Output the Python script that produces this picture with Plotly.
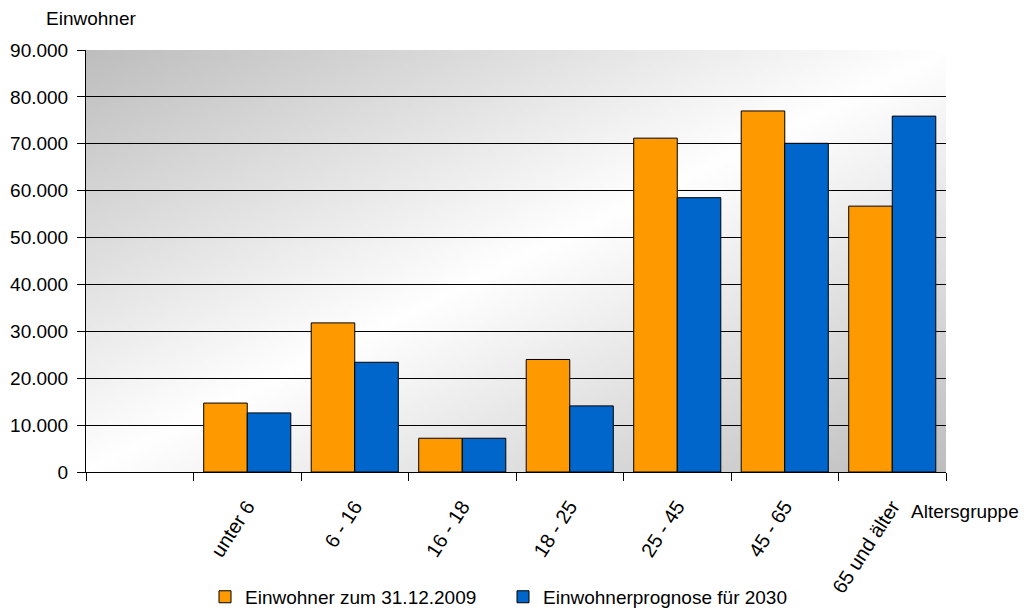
import base64
import struct
import zlib

import plotly.graph_objects as go

# Age groups (x) and population counts per series
altersgruppen = ["unter 6", "6 - 16", "16 - 18", "18 - 25", "25 - 45", "45 - 65", "65 und älter"]
einwohner_2009 = [14700, 31800, 7200, 24000, 71200, 77000, 56700]
prognose_2030 = [12600, 23400, 7200, 14100, 58500, 70100, 75900]
y_ticks = [0, 10000, 20000, 30000, 40000, 50000, 60000, 70000, 80000, 90000]

# Slot 0 stays empty; the age groups occupy slots 1..7
positions = list(range(1, len(altersgruppen) + 1))


def gradient_png(w=172, h=84, dark=190):
    """Grey-white-grey diagonal gradient as a PNG data URI."""
    rows = bytearray()
    for j in range(h):
        rows.append(0)
        v = j / (h - 1)
        for i in range(w):
            u = i / (w - 1)
            t = (u + v) / 2.0
            d = abs(2 * t - 1)
            val = int(round(255 - (255 - dark) * d))
            rows.append(val)

    def chunk(tag, data):
        c = struct.pack(">I", len(data)) + tag + data
        return c + struct.pack(">I", zlib.crc32(tag + data) & 0xFFFFFFFF)

    png = b"\x89PNG\r\n\x1a\n"
    png += chunk(b"IHDR", struct.pack(">IIBBBBB", w, h, 8, 0, 0, 0, 0))
    png += chunk(b"IDAT", zlib.compress(bytes(rows), 9))
    png += chunk(b"IEND", b"")
    return "data:image/png;base64," + base64.b64encode(png).decode()


FONT = "Liberation Sans, Arial, sans-serif"
FS = 19

fig = go.Figure()
fig.add_trace(go.Bar(
    x=positions, y=einwohner_2009, name="Einwohner zum 31.12.2009",
    marker=dict(color="#FF9900", line=dict(color="black", width=1)),
))
fig.add_trace(go.Bar(
    x=positions, y=prognose_2030, name="Einwohnerprognose für 2030",
    marker=dict(color="#0066CC", line=dict(color="black", width=1)),
))

fig.update_layout(
    width=1032, height=610,
    margin=dict(l=86, r=86, t=50, b=138, autoexpand=False),
    paper_bgcolor="white",
    plot_bgcolor="white",
    font=dict(family=FONT, size=FS, color="black"),
    separators=",.",
    barmode="group",
    bargap=0.19,
    bargroupgap=0,
    showlegend=True,
    legend=dict(
        orientation="h", x=(205 - 86) / 860, xanchor="left", y=-0.296, yanchor="middle",
        entrywidth=253, entrywidthmode="pixels",
        bgcolor="rgba(0,0,0,0)", font=dict(size=FS), itemclick=False,
    ),
    images=[dict(
        source=gradient_png(), xref="paper", yref="paper", x=0, y=1,
        sizex=1, sizey=1, sizing="stretch", xanchor="left", yanchor="top",
        layer="below",
    )],
    xaxis=dict(
        range=[-0.5, len(altersgruppen) + 0.5],
        tickvals=positions, ticktext=altersgruppen, tickangle=-57,
        ticks="", showgrid=False, zeroline=False, automargin=False,
        showline=True, linecolor="black", linewidth=1,
        ticklabelstandoff=14,
        minor=dict(tick0=0.5, dtick=1, ticks="outside", ticklen=8,
                   tickcolor="black", showgrid=False),
        tickfont=dict(size=20),
    ),
    yaxis=dict(
        range=[0, 90000], tickvals=y_ticks, tickformat=",d",
        ticks="outside", ticklen=8, tickcolor="black", automargin=False,
        showgrid=True, gridcolor="black", gridwidth=1,
        zeroline=False, showline=True, linecolor="black", linewidth=1,
        ticklabelstandoff=5,
        tickfont=dict(size=FS),
    ),
    annotations=[
        dict(text="Einwohner", xref="paper", yref="paper",
             x=(44 - 86) / 860, y=(472 - 19) / 422, xanchor="left", yanchor="middle",
             showarrow=False, font=dict(size=FS)),
        dict(text="Altersgruppe", xref="paper", yref="paper",
             x=(909 - 86) / 860, y=(472 - 511) / 422, xanchor="left", yanchor="middle",
             showarrow=False, font=dict(size=FS)),
    ],
)

fig.write_html("out.html")
